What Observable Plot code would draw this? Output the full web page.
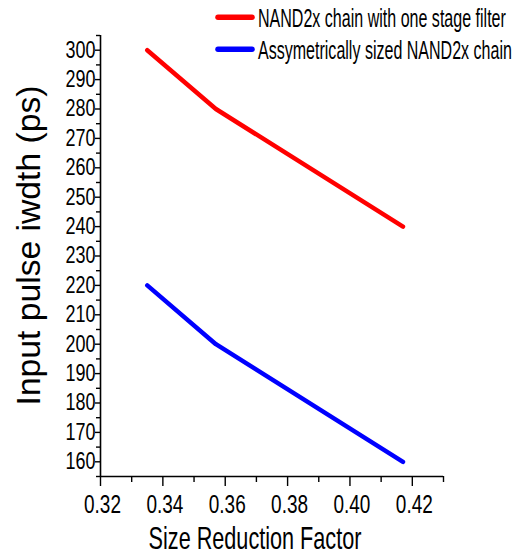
<!DOCTYPE html>
<html><head><meta charset="utf-8">
<script src="https://cdn.jsdelivr.net/npm/d3@7"></script>
<script src="https://cdn.jsdelivr.net/npm/@observablehq/plot@0.6"></script>
<style>
body{margin:0;background:#fff;}
#wrap{position:relative;width:514px;height:556px;font-family:"Liberation Sans",Arial,sans-serif;}
#legend{position:absolute;left:0;top:0;}
</style></head>
<body><div id="wrap"></div>
<script>
const sizeFactor = [0.335, 0.357, 0.417];
const nandFilter = [300, 280, 240];
const asymNand = [220, 200, 160];
const seriesNames = ["NAND2x chain with one stage filter", "Assymetrically sized NAND2x chain"];
const seriesColors = ["#ff0000", "#0000ff"];
const xTicks = [0.32, 0.34, 0.36, 0.38, 0.40, 0.42];
const xMinorTicks = [0.33, 0.35, 0.37, 0.39, 0.41, 0.43];
const yTicks = [160, 170, 180, 190, 200, 210, 220, 230, 240, 250, 260, 270, 280, 290, 300];
const yMinorTicks = [155, 165, 175, 185, 195, 205, 215, 225, 235, 245, 255, 265, 275, 285, 295, 305];
const xLabel = "Size Reduction Factor";
const yLabel = "Input pulse iwdth (ps)";

const rows = [];
[nandFilter, asymNand].forEach((vals, s) => {
  sizeFactor.forEach((x, i) => rows.push({x, y: vals[i], series: seriesNames[s]}));
});

const FONT = '"Liberation Sans", Arial, sans-serif';
const chart = Plot.plot({
  width: 514, height: 556,
  marginLeft: 100, marginRight: 71, marginTop: 35, marginBottom: 80,
  className: "chart",
  style: {fontFamily: FONT, color: "#000", background: "#fff"},
  x: {domain: [0.32, 0.43]},
  y: {domain: [155, 305]},
  color: {domain: seriesNames, range: seriesColors},
  marks: [
    Plot.axisX({ticks: xMinorTicks, tickSize: 6, tickFormat: () => "", label: null, strokeWidth: 1.4}),
    Plot.axisX({ticks: xTicks, tickSize: 10, tickPadding: 9, tickFormat: d3.format(".2f"), label: null, strokeWidth: 1.4, fontSize: 25}),
    Plot.axisX({ticks: [], label: xLabel, labelAnchor: "center", labelOffset: 72, labelArrow: "none", fontSize: 31}),
    Plot.axisY({ticks: yMinorTicks, tickSize: 4, tickFormat: () => "", label: null, strokeWidth: 1.4}),
    Plot.axisY({ticks: yTicks, tickSize: 5, tickPadding: 0, tickFormat: d => String(d), label: null, strokeWidth: 1.4, fontSize: 23}),
    Plot.axisY({ticks: [], label: yLabel, labelAnchor: "center", labelOffset: 84, labelArrow: "none", fontSize: 33}),
    Plot.ruleX([0.32], {strokeWidth: 1.6}),
    Plot.ruleY([155], {strokeWidth: 1.6}),
    Plot.line(rows, {x: "x", y: "y", z: "series", stroke: "series", strokeWidth: 4.5})
  ]
});

const wrap = document.getElementById("wrap");
wrap.appendChild(chart);

// horizontally condense a text element to a target length (narrow glyphs like the original)
function condense(el, target) {
  const natural = el.getComputedTextLength();
  if (!natural) return;
  const sx = target / natural;
  const tr = el.getAttribute("transform") || "";
  el.setAttribute("transform", (tr + ` scale(${sx.toFixed(4)},1)`).trim());
}
function tweak(label, fontSize, lengthFn, shift) {
  d3.select(chart).selectAll(`g[aria-label="${label}"]`).each(function () {
    if (shift) this.setAttribute("transform", (this.getAttribute("transform") || "") + ` translate(${shift[0]},${shift[1]})`);
    d3.select(this).selectAll("text").each(function () {
      const t = this.textContent;
      if (!t) return;
      this.setAttribute("font-size", fontSize);
      condense(this, lengthFn(t));
    });
  });
}
tweak("y-axis tick label", 23, t => 10 * t.length, null);
tweak("x-axis tick label", 25, t => 37, [2, 0]);
tweak("x-axis label", 31, t => 213, [-17, 0]);
tweak("y-axis label", 33, t => 320, [0, -10.5]);

// legend
const leg = d3.select(wrap).append("svg").attr("id", "legend").attr("width", 514).attr("height", 66)
  .style("font-family", FONT);
const legLengths = [248, 254];
seriesNames.forEach((name, i) => {
  const cy = 17.3 + i * 32;
  leg.append("line").attr("x1", 218).attr("x2", 252).attr("y1", cy).attr("y2", cy)
    .attr("stroke", seriesColors[i]).attr("stroke-width", 5.5).attr("stroke-linecap", "round");
  const t = leg.append("text").attr("transform", `translate(258,${cy + 9.7})`).attr("font-size", 26)
    .attr("fill", "#000").text(name);
  condense(t.node(), legLengths[i]);
});
</script>
</body></html>
